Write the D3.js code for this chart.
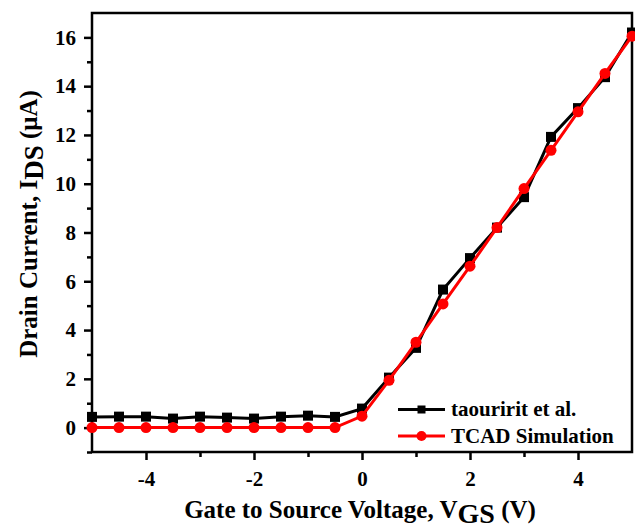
<!DOCTYPE html>
<html>
<head>
<meta charset="utf-8">
<script src="https://cdn.jsdelivr.net/npm/d3@7"></script>
<style>
  html, body { margin: 0; padding: 0; background: #fff; }
</style>
</head>
<body>
<div id="chart"></div>
<script>
// gate voltage sweep
const vgs = [-5, -4.5, -4, -3.5, -3, -2.5, -2, -1.5, -1, -0.5, 0, 0.5, 1, 1.5, 2, 2.5, 3, 3.5, 4, 4.5, 5];
// measured (taouririt et al.)
const taouririt = [0.44, 0.45, 0.45, 0.37, 0.45, 0.41, 0.37, 0.45, 0.49, 0.44, 0.78, 2.05, 3.27, 5.66, 6.95, 8.2, 9.45, 11.92, 13.1, 14.37, 16.2];
// simulated (TCAD)
const tcad = [0, 0, 0, 0, 0, 0, 0, 0, 0, 0, 0.47, 1.94, 3.5, 5.07, 6.62, 8.2, 9.8, 11.37, 12.95, 14.52, 16.05];
const xTicks = [-4, -2, 0, 2, 4];
const xMinor = [-3, -1, 1, 3];
const yTicks = [0, 2, 4, 6, 8, 10, 12, 14, 16];
const yMinor = [-1, 1, 3, 5, 7, 9, 11, 13, 15];
const seriesNames = ['taouririt et al.', 'TCAD Simulation'];

const FONT = '"Liberation Serif"';
const W = 635, H = 526;
const margin = { left: 92, right: 3, top: 13, bottom: 74 };

let svg = d3.select('#chart').append('svg')
  .attr('width', W)
  .attr('height', H);

let x = d3.scaleLinear().domain([-5, 5]).range([margin.left, W - margin.right]),
  y = d3.scaleLinear().domain([-1, 17]).range([H - margin.bottom, margin.top]);

function styleText(sel, size) {
  sel.attr('font-family', null)
    .style('font-family', FONT)
    .attr('font-weight', 'bold')
    .attr('font-size', size)
    .attr('fill', '#000');
}

// minor ticks
svg.append('g')
  .attr('transform', `translate(0,${H - margin.bottom})`)
  .call(d3.axisBottom(x).tickValues(xMinor).tickSize(5).tickFormat(''))
  .call(g => g.select('.domain').remove())
  .selectAll('line').attr('stroke-width', 2.5);
svg.append('g')
  .attr('transform', `translate(${margin.left},0)`)
  .call(d3.axisLeft(y).tickValues(yMinor).tickSize(5).tickFormat(''))
  .call(g => g.select('.domain').remove())
  .selectAll('line').attr('stroke-width', 2.5);

// major ticks
let xAxis = svg.append('g')
  .attr('transform', `translate(0,${H - margin.bottom})`)
  .call(d3.axisBottom(x).tickValues(xTicks).tickSize(8).tickPadding(11))
  .call(g => g.select('.domain').remove())
  .attr('font-family', null)
  .attr('font-size', null);
xAxis.selectAll('line').attr('stroke-width', 2.5);
xAxis.selectAll('text')
  .call(styleText, 21)
  .text(d => d < 0 ? '-' + Math.abs(d) : d);

let yAxis = svg.append('g')
  .attr('transform', `translate(${margin.left},0)`)
  .call(d3.axisLeft(y).tickValues(yTicks).tickSize(8).tickPadding(8))
  .call(g => g.select('.domain').remove())
  .attr('font-family', null)
  .attr('font-size', null);
yAxis.selectAll('line').attr('stroke-width', 2.5);
yAxis.selectAll('text').call(styleText, 21);

// frame
svg.append('rect')
  .attr('x', margin.left)
  .attr('y', margin.top)
  .attr('width', W - margin.left - margin.right)
  .attr('height', H - margin.top - margin.bottom)
  .attr('fill', 'none')
  .attr('stroke', '#000')
  .attr('stroke-width', 2.5);

let line = d3.line()
  .x((d, i) => x(vgs[i]))
  .y(d => y(d));

let plot = svg.append('g');

plot.append('path')
  .datum(taouririt)
  .attr('d', line)
  .attr('fill', 'none')
  .attr('stroke', '#000')
  .attr('stroke-width', 3);
plot.selectAll('rect.sq')
  .data(taouririt)
  .enter()
  .append('rect')
  .attr('class', 'sq')
  .attr('x', (d, i) => x(vgs[i]) - 5)
  .attr('y', d => y(d) - 5)
  .attr('width', 10)
  .attr('height', 10)
  .attr('fill', '#000');

plot.append('path')
  .datum(tcad)
  .attr('d', line)
  .attr('fill', 'none')
  .attr('stroke', '#ff0000')
  .attr('stroke-width', 3);
plot.selectAll('circle.dot')
  .data(tcad)
  .enter()
  .append('circle')
  .attr('class', 'dot')
  .attr('cx', (d, i) => x(vgs[i]))
  .attr('cy', d => y(d))
  .attr('r', 5.5)
  .attr('fill', '#ff0000');

// legend
let legend = svg.append('g').attr('transform', 'translate(398,409.5)');
seriesNames.forEach(function (name, i) {
  let row = legend.append('g').attr('transform', `translate(0,${i * 26.5})`),
    color = i == 0 ? '#000' : '#ff0000';
  row.append('line')
    .attr('x1', 0).attr('x2', 47)
    .attr('stroke', color)
    .attr('stroke-width', 3);
  if (i == 0) {
    row.append('rect').attr('x', 19.5).attr('y', -4).attr('width', 8).attr('height', 8).attr('fill', color);
  } else {
    row.append('circle').attr('cx', 23.5).attr('r', 5).attr('fill', color);
  }
  row.append('text')
    .attr('x', 53)
    .attr('y', 6.5)
    .call(styleText, 21)
    .text(name);
});

// axis titles
let xt = svg.append('text')
  .attr('x', 360)
  .attr('y', 518)
  .attr('text-anchor', 'middle')
  .call(styleText, 25);
xt.append('tspan').text('Gate to Source Voltage, V');
xt.append('tspan').attr('dy', 5).attr('font-size', 28).text('GS');
xt.append('tspan').attr('dy', -5).text(' (V)');

let yt = svg.append('text')
  .attr('transform', 'translate(36.5,224) rotate(-90)')
  .attr('text-anchor', 'middle')
  .call(styleText, 25);
yt.append('tspan').text('Drain Current, I');
yt.append('tspan').attr('dy', 6).attr('font-size', 27).text('DS');
yt.append('tspan').attr('dy', -6).text(' (\u03bcA)');
</script>
</body>
</html>
